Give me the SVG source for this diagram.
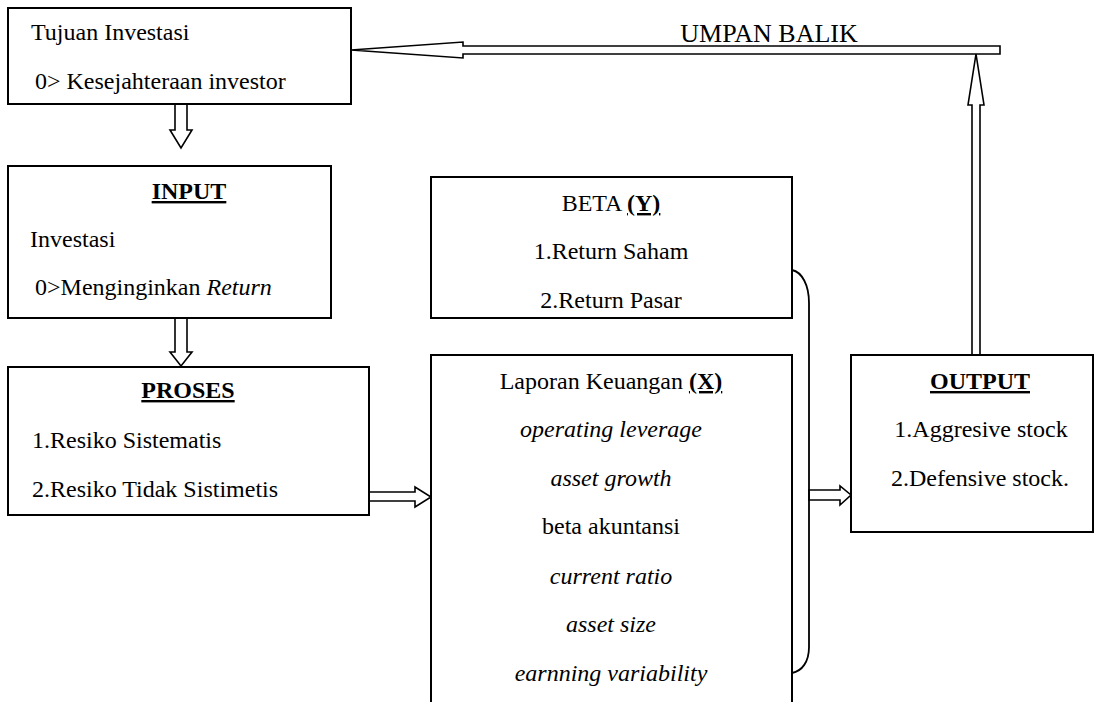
<svg xmlns="http://www.w3.org/2000/svg" width="1100" height="702" viewBox="0 0 1100 702">
<style>
  text { font-family: "Liberation Serif", "Times New Roman", serif; font-size: 24px; fill: #000; }
  .box { fill: #fff; stroke: #000; stroke-width: 2; }
  .blk { fill: #fff; stroke: #000; stroke-width: 1.6; stroke-linejoin: miter; }
  .line { fill: none; stroke: #000; stroke-width: 1.8; }
  .c { text-anchor: middle; }
  .bu { font-weight: bold; text-decoration: underline; }
  .i { font-style: italic; }
</style>
<rect width="1100" height="702" fill="#fff"/>

<g id="connectors">
  <polygon class="blk" points="1000,46 463,46 463,42 351,50 463,58 463,54 1000,54"/>
  <polygon class="blk" points="972,355 972,105 968,105 976,54 984,105 980,105 980,355"/>
  <polygon class="blk" points="175,104 187,104 187,130 192,130 181,148 170,130 175,130"/>
  <polygon class="blk" points="175,318 187,318 187,352 192,352 181,366 170,352 175,352"/>
  <polygon class="blk" points="369,492 415,492 415,487 431,497 415,507 415,501 369,501"/>
  <polygon class="blk" points="809,490 840,490 840,486 851,495 840,505 840,500 809,500"/>
  <path class="line" d="M792,270 C802,272 809,285 809,303 L809,647 C809,662 802,671 792,673"/>
  <text x="769" y="42" class="c" style="font-size:26px">UMPAN BALIK</text>
</g>

<g id="tujuan">
  <rect class="box" x="8" y="8" width="343" height="96"/>
  <text x="31" y="40">Tujuan Investasi</text>
  <text x="35" y="89">0&gt; Kesejahteraan investor</text>
</g>

<g id="input">
  <rect class="box" x="8" y="166" width="323" height="152"/>
  <text x="189" y="199" class="c"><tspan class="bu">INPUT</tspan></text>
  <text x="30" y="247">Investasi</text>
  <text x="35" y="295">0&gt;Menginginkan <tspan class="i">Return</tspan></text>
</g>

<g id="proses">
  <rect class="box" x="8" y="367" width="361" height="148"/>
  <text x="188" y="398" class="c"><tspan class="bu">PROSES</tspan></text>
  <text x="32" y="448">1.Resiko Sistematis</text>
  <text x="32" y="497">2.Resiko Tidak Sistimetis</text>
</g>

<g id="beta">
  <rect class="box" x="431" y="177" width="361" height="141"/>
  <text x="611" y="211" class="c">BETA <tspan class="bu">(Y)</tspan></text>
  <text x="611" y="259" class="c">1.Return Saham</text>
  <text x="611" y="308" class="c">2.Return Pasar</text>
</g>

<g id="laporan">
  <rect class="box" x="431" y="355" width="361" height="360"/>
  <text x="611" y="389" class="c">Laporan Keuangan <tspan class="bu">(X)</tspan></text>
  <text x="611" y="437" class="c i">operating leverage</text>
  <text x="611" y="486" class="c i">asset growth</text>
  <text x="611" y="534" class="c">beta akuntansi</text>
  <text x="611" y="584" class="c i">current ratio</text>
  <text x="611" y="632" class="c i">asset size</text>
  <text x="611" y="681" class="c i">earnning variability</text>
</g>

<g id="output">
  <rect class="box" x="851" y="355" width="242" height="177"/>
  <text x="980" y="389" class="c"><tspan class="bu">OUTPUT</tspan></text>
  <text x="981" y="437" class="c">1.Aggresive stock</text>
  <text x="980" y="486" class="c">2.Defensive stock.</text>
</g>
</svg>
